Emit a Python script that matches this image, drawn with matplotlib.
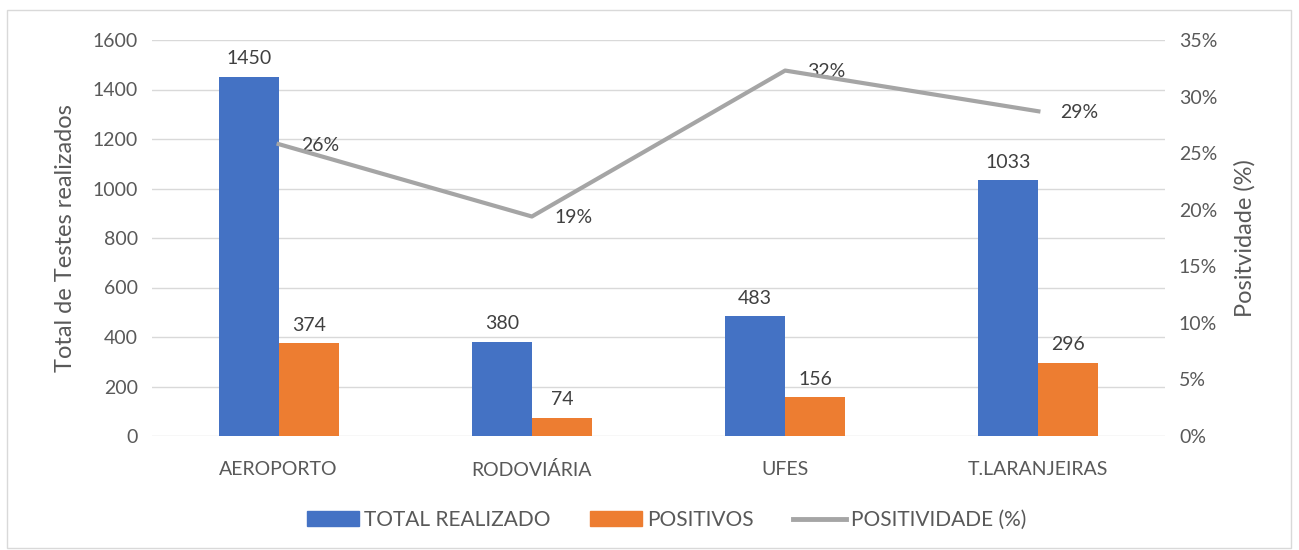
import matplotlib.pyplot as plt
import numpy as np
from matplotlib.patches import Rectangle
from matplotlib.lines import Line2D
from matplotlib.patches import Patch

plt.rcParams['font.family'] = ['Lato', 'DejaVu Sans']

locais = ['AEROPORTO', 'RODOVIÁRIA', 'UFES', 'T.LARANJEIRAS']
total = [1450, 380, 483, 1033]
positivos = [374, 74, 156, 296]
positividade = [25.8, 19.4, 32.3, 28.7]

azul = '#4472C4'
laranja = '#ED7D31'
cinza = '#A5A5A5'
txt = '#595959'
fs = 14

fig = plt.figure(figsize=(12.99, 5.5), dpi=100)
ax = fig.add_axes([152/1299, 114/550, 1013/1299, 396/550])
ax2 = ax.twinx()

x = np.arange(len(locais))
w = 0.237
ax.bar(x - w/2, total, w, color=azul, zorder=3)
ax.bar(x + w/2, positivos, w, color=laranja, zorder=3)
for xi, v in zip(x, total):
    ax.annotate(str(v), (xi - w/2, v), xytext=(0, 7), textcoords='offset points',
                ha='center', va='bottom', fontsize=fs, color='#404040')
for xi, v in zip(x, positivos):
    ax.annotate(str(v), (xi + w/2, v), xytext=(0, 7), textcoords='offset points',
                ha='center', va='bottom', fontsize=fs, color='#404040')

ax.set_xlim(-0.5, len(locais) - 0.5)
ax.set_ylim(0, 1600)
ax.set_yticks(range(0, 1601, 200))
ax.set_xticks(x)
ax.set_xticklabels(locais)
ax.grid(axis='y', color='#D9D9D9', lw=1, zorder=0)
ax.set_ylabel('Total de Testes realizados', fontsize=17, color=txt, labelpad=12)

ax2.plot(x, positividade, color=cinza, lw=3, zorder=4)
for xi, v in zip(x, positividade):
    ax2.annotate(f'{v:.0f}%', (xi, v), xytext=(16, -1), textcoords='offset points',
                 ha='left', va='center', fontsize=fs, color='#404040')
ax2.set_ylim(0, 35)
ax2.set_yticks(range(0, 36, 5))
ax2.set_yticklabels([f'{t}%' for t in range(0, 36, 5)])
ax2.set_ylabel('Positvidade (%)', fontsize=17, color=txt, labelpad=12)

for a in (ax, ax2):
    for s in a.spines.values():
        s.set_visible(False)
    a.tick_params(length=0, labelsize=fs, labelcolor=txt, pad=10)
ax.tick_params(axis='x', pad=18)
ax.set_zorder(ax2.get_zorder() - 1)
ax2.patch.set_visible(False)
ax.patch.set_visible(False)

handles = [Patch(color=azul), Patch(color=laranja), Line2D([], [], color=cinza, lw=3.5)]
fig.legend(handles, ['TOTAL REALIZADO', 'POSITIVOS', 'POSITIVIDADE (%)'],
           loc='center', bbox_to_anchor=(0.513, 30/550), ncol=3, frameon=False,
           fontsize=15, labelcolor=txt, handlelength=2.5, handleheight=0.75,
           columnspacing=1.9, handletextpad=0.25)

fig.patches.append(Rectangle((7/1299, 2/550), 1284/1299, 538/550, transform=fig.transFigure,
                             fill=False, edgecolor='#D9D9D9', lw=1))

fig.savefig('out.png', dpi=100)
